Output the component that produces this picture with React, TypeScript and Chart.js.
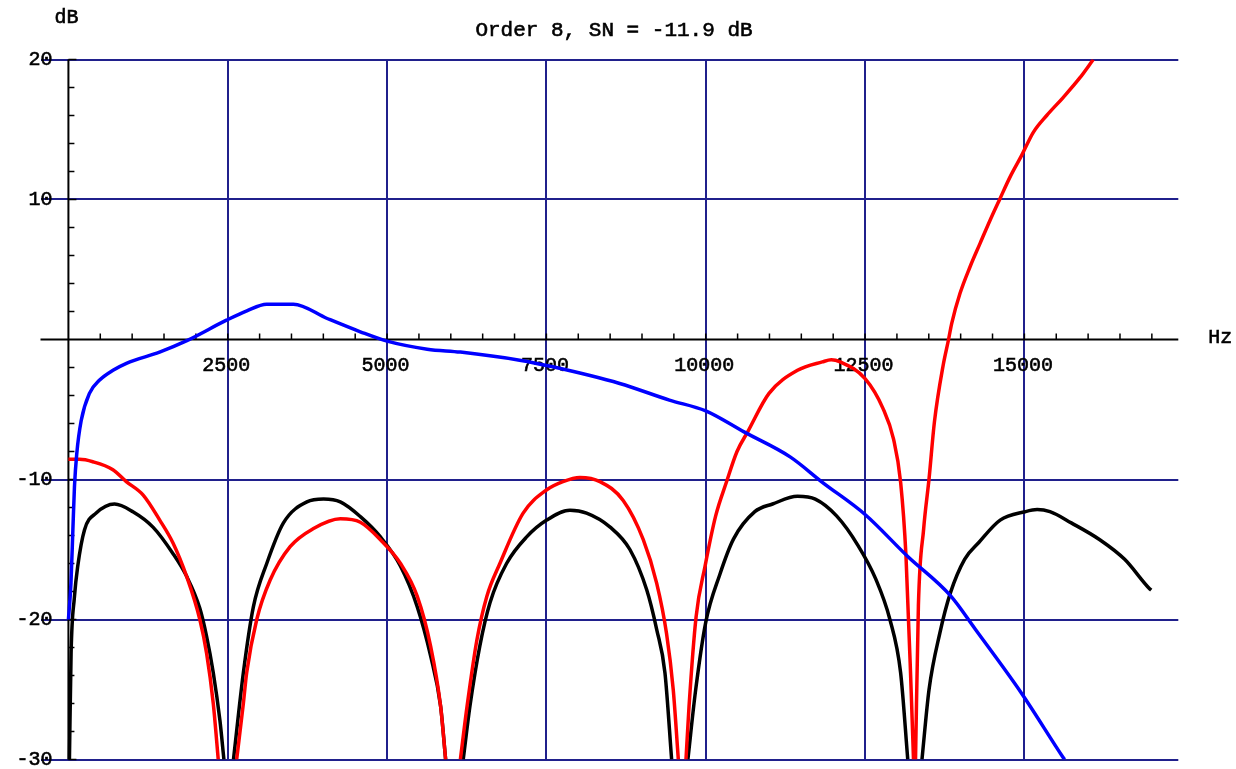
import React, { useEffect, useRef } from "react";
import { Chart, registerables } from "chart.js";

Chart.register(...registerables);

// Frequency axis (Hz) and level axis (dB)
const xGridHz = [2500, 5000, 7500, 10000, 12500, 15000];
const xTickLabels = ["2500", "5000", "7500", "10000", "12500", "15000"];
const yGridDb = [-30, -20, -10, 10, 20];
const yTickLabels = ["-30", "-20", "-10", "10", "20"];
const xMin = -438;
const xMax = 17415;
const yMin = -30;
const yMax = 20;

const titleText = "Order 8, SN = -11.9 dB";

// Blue response
const blueHz = [0, 40, 70, 95, 130, 200, 330, 490, 700, 910, 1430, 1850, 2480, 2800, 3110, 3530, 4060, 4580, 5000, 5630, 6150, 7080, 7600, 8650, 9430, 10000, 10600, 11330, 11830, 12500, 13170, 13840, 14230, 14960, 15600, 15630];
const blueDb = [-20, -17.4, -13.6, -10.5, -8.2, -5.8, -3.85, -2.9, -2.2, -1.7, -0.9, -0.1, 1.38, 2.05, 2.52, 2.52, 1.5, 0.55, -0.12, -0.69, -0.9, -1.48, -1.95, -3.14, -4.33, -5.1, -6.6, -8.4, -10.2, -12.5, -15.5, -18.3, -20.7, -25.3, -29.8, -30];

// Red response
const redHz = [0, 173, 383, 698, 908, 1170, 1433, 1643, 1853, 2062, 2168, 2273, 2351, 2490, 2640, 2745, 2797, 2955, 3164, 3479, 3846, 4266, 4581, 4896, 5211, 5474, 5683, 5840, 5919, 6040, 6150, 6255, 6410, 6565, 6770, 7135, 7500, 7760, 8025, 8340, 8705, 9020, 9230, 9385, 9490, 9570, 9630, 9690, 9738, 9849, 9989, 10156, 10324, 10491, 10658, 10993, 11440, 11830, 11970, 12109, 12500, 12779, 12946, 13058, 13142, 13225, 13260, 13281, 13292, 13337, 13420, 13504, 13588, 13727, 13810, 13859, 13989, 14146, 14303, 14460, 14617, 14774, 14957, 15140, 15350, 15611, 15872, 16081];
const redDb = [-8.56, -8.56, -8.73, -9.3, -10.15, -11.1, -12.9, -14.55, -16.9, -20.0, -22.4, -26.0, -30, null, -30, -26.0, -23.8, -20.0, -17.2, -14.8, -13.5, -12.8, -13.05, -14.3, -16.0, -18.35, -21.9, -26.2, -30, null, -30, -26.2, -21.45, -18.35, -16.0, -12.4, -10.75, -10.15, -9.85, -10.15, -11.5, -14.3, -17.4, -21.0, -25.0, -30, null, -30, -26.2, -19.8, -16.2, -12.6, -10.2, -8.0, -6.6, -3.85, -2.2, -1.6, -1.45, -1.6, -2.8, -4.9, -7.1, -10.2, -15.45, -25.3, -30, null, -30, -19.0, -13.5, -9.95, -5.9, -1.8, 0, 1.14, 3.28, 5.18, 6.85, 8.5, 10.06, 11.6, 13.15, 14.8, 16.0, 17.3, 18.7, 20.0];

// Black response
const blackHz = [16, 42, 94, 146, 252, 436, 724, 1012, 1327, 1642, 1853, 2062, 2168, 2273, 2377, 2440, 2520, 2590, 2745, 2902, 3112, 3374, 3742, 4004, 4266, 4581, 4896, 5211, 5474, 5683, 5840, 5919, 6060, 6195, 6300, 6455, 6615, 6875, 7190, 7505, 7870, 8130, 8500, 8810, 9075, 9230, 9360, 9465, 9590, 9720, 9840, 10000, 10220, 10435, 10770, 11049, 11440, 11719, 12053, 12388, 12667, 12890, 13058, 13170, 13280, 13393, 13504, 13672, 13839, 14062, 14285, 14620, 15011, 15200, 15401, 15736, 16183, 16573, 16964, 16990];
const blackDb = [-30, -22.4, -18.4, -16.2, -13.6, -12.4, -11.75, -12.3, -13.4, -15.3, -16.9, -19.2, -21.2, -23.8, -27.2, -30, null, -30, -23.8, -19.1, -16.0, -13.1, -11.6, -11.4, -11.6, -12.65, -14.1, -16.2, -19.1, -22.6, -26.2, -30, null, -30, -26.2, -21.9, -18.8, -16.0, -14.1, -12.9, -12.2, -12.4, -13.4, -15.0, -17.9, -20.7, -23.8, -30, null, -30, -25.1, -20.2, -16.8, -14.26, -12.3, -11.75, -11.2, -11.4, -12.6, -14.7, -17.1, -20.0, -23.8, -30, null, -30, -25.0, -21.0, -18.1, -15.7, -14.5, -12.9, -12.3, -12.15, -12.3, -13.1, -14.3, -15.7, -17.8, -17.9];

const toPoints = (xs: number[], ys: (number | null)[]) =>
  xs.map((x, i) => ({ x, y: ys[i] }));

const MONO = '"Liberation Mono", "DejaVu Sans Mono", monospace';

// filled text with a thin outline so the strokes read a little heavier
const heavyText = (ctx: CanvasRenderingContext2D, text: string, x: number, y: number) => {
  ctx.fillText(text, x, y);
  ctx.strokeText(text, x, y);
};

const decorPlugin = {
  id: "axesDecor",
  beforeDatasetsDraw(chart: any) {
    const { ctx, chartArea } = chart;
    const xs = chart.scales.x;
    const ys = chart.scales.y;
    const x0 = xs.getPixelForValue(0);
    const y0 = ys.getPixelForValue(0);
    ctx.save();

    // axis lines through the origin
    ctx.strokeStyle = "#000";
    ctx.lineWidth = 2;
    ctx.beginPath();
    ctx.moveTo(chartArea.left, y0);
    ctx.lineTo(chartArea.right, y0);
    ctx.stroke();
    ctx.beginPath();
    ctx.moveTo(x0, chartArea.top);
    ctx.lineTo(x0, chartArea.bottom);
    ctx.stroke();

    // minor ticks: every 500 Hz above the frequency axis
    ctx.lineWidth = 1.5;
    ctx.beginPath();
    for (let v = 500; v <= 17000; v += 500) {
      const px = xs.getPixelForValue(v);
      ctx.moveTo(px, y0);
      ctx.lineTo(px, y0 - 6);
    }
    // every 2 dB to the right of the level axis
    for (let v = yMin; v <= yMax; v += 2) {
      if (v === 0) continue;
      const py = ys.getPixelForValue(v);
      const len = v % 10 === 0 ? 8 : 6;
      ctx.moveTo(x0, py);
      ctx.lineTo(x0 + len, py);
    }
    ctx.stroke();

    // tick labels
    ctx.fillStyle = "#000";
    ctx.strokeStyle = "#000";
    ctx.lineWidth = 0.6;
    ctx.font = `20px ${MONO}`;
    ctx.textAlign = "center";
    ctx.textBaseline = "middle";
    xGridHz.forEach((v, i) => {
      heavyText(ctx, xTickLabels[i], xs.getPixelForValue(v) - 1.5, y0 + 26);
    });
    ctx.textAlign = "right";
    yGridDb.forEach((v, i) => {
      heavyText(ctx, yTickLabels[i], x0 - 16, ys.getPixelForValue(v));
    });

    // axis names
    ctx.textAlign = "left";
    heavyText(ctx, "Hz", chartArea.right + 30, y0 - 2);
    heavyText(ctx, "dB", x0 - 14, 18);

    // title
    ctx.font = `21px ${MONO}`;
    ctx.textAlign = "center";
    heavyText(ctx, titleText, 614, 30);

    ctx.restore();
  },
};

export default function App() {
  const canvasRef = useRef<HTMLCanvasElement | null>(null);

  useEffect(() => {
    const canvas = canvasRef.current;
    if (!canvas) return;
    const chart = new Chart(canvas, {
      type: "line",
      data: {
        datasets: [
          {
            label: "blue",
            data: toPoints(blueHz, blueDb),
            borderColor: "#0000ff",
            borderWidth: 3.5,
          },
          {
            label: "red",
            data: toPoints(redHz, redDb),
            borderColor: "#ff0000",
            borderWidth: 3.5,
          },
          {
            label: "black",
            data: toPoints(blackHz, blackDb),
            borderColor: "#000000",
            borderWidth: 3.5,
          },
        ],
      },
      options: {
        animation: false,
        responsive: true,
        maintainAspectRatio: false,
        parsing: true,
        spanGaps: false,
        elements: {
          point: { radius: 0, hoverRadius: 0 },
          line: { cubicInterpolationMode: "monotone", fill: false },
        },
        layout: {
          padding: { left: 40.5, right: 57.7, top: 59.5, bottom: 9.5 },
        },
        plugins: {
          legend: { display: false },
          tooltip: { enabled: false },
          title: { display: false },
        },
        scales: {
          x: {
            type: "linear",
            min: xMin,
            max: xMax,
            afterBuildTicks: (scale: any) => {
              scale.ticks = xGridHz.map((value) => ({ value }));
            },
            ticks: { display: false },
            border: { display: false },
            grid: { color: "#20208c", lineWidth: 2, drawTicks: false },
          },
          y: {
            type: "linear",
            min: yMin,
            max: yMax,
            afterBuildTicks: (scale: any) => {
              scale.ticks = yGridDb.map((value) => ({ value }));
            },
            ticks: { display: false },
            border: { display: false },
            grid: { color: "#20208c", lineWidth: 2, drawTicks: false },
          },
        },
      },
      plugins: [decorPlugin],
    });
    return () => chart.destroy();
  }, []);

  return (
    <div
      style={{
        position: "absolute",
        left: 0,
        top: 0,
        width: 1236,
        height: 769,
        background: "#fff",
      }}
    >
      <canvas ref={canvasRef} />
    </div>
  );
}
